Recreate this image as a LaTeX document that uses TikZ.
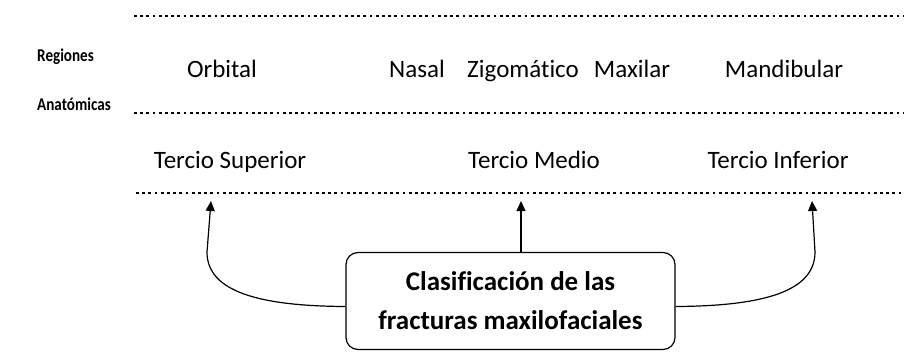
\documentclass[tikz,border=0pt]{standalone}
\usepackage{fontspec}
\setmainfont[Ligatures=NoCommon]{Carlito}
\newfontfamily\sidefont[Ligatures=NoCommon,FakeStretch=0.84,BoldFeatures={FakeStretch=0.84}]{Carlito}
\usetikzlibrary{arrows.meta}
\begin{document}
\begin{tikzpicture}[x=1pt,y=-1pt,
  dotline/.style={line width=2.4pt,dash pattern=on 2.8pt off 3.4pt},
  lbl/.style={font=\fontsize{25}{30}\selectfont,inner sep=0pt,anchor=base},
  side/.style={font=\sidefont\bfseries\fontsize{18}{21}\selectfont,inner sep=0pt,anchor=base west},
  conn/.style={line width=1.2pt,-{Triangle[length=10pt,width=9pt]}},
  mainbox/.style={draw,line width=1.2pt,rounded corners=12pt,minimum width=329pt,minimum height=97pt,
    align=center,font=\fontsize{27}{39}\selectfont\bfseries,inner sep=0pt}]
\useasboundingbox (0,0) rectangle (904,351);
% dotted lines
\coordinate (l1a) at (134,16); \coordinate (l1b) at (906,16);
\coordinate (l2a) at (134,113); \coordinate (l2b) at (906,113);
\coordinate (l3a) at (136,193); \coordinate (l3b) at (906,193);
\draw[dotline] (l1a) -- (l1b);
\draw[dotline] (l2a) -- (l2b);
\draw[dotline] (l3a) -- (l3b);
% side labels
\node[side] (reg) at (37,61) {Regiones};
\node[side] (ana) at (37,110) {Anatómicas};
% regions
\node[lbl] (orb) at (222,77) {Orbital};
\node[lbl] (nas) at (417,77) {Nasal};
\node[lbl] (zig) at (523,77) {Zigomático};
\node[lbl] (max) at (632,77) {Maxilar};
\node[lbl] (man) at (784,77) {Mandibular};
% tercios
\node[lbl] (ts) at (230,168) {Tercio Superior};
\node[lbl] (tm) at (534,168) {Tercio Medio};
\node[lbl] (ti) at (778,168) {Tercio Inferior};
% box
\node[mainbox] (box) at (510.5,301) {Clasificación de las\\fracturas maxilofaciales};
% arrow tips
\coordinate (tl) at (211,201);
\coordinate (tm2) at (521,201);
\coordinate (tr) at (812,201);
\draw[conn] ([yshift=-5.5pt]box.west) .. controls (260,306) and (207,292) .. (207,252) -- (tl);
\draw[conn] (box.north -| tm2) -- (tm2);
\draw[conn] ([yshift=-5.5pt]box.east) .. controls (762,306) and (815,292) .. (815,252) -- (tr);
\end{tikzpicture}
\end{document}
